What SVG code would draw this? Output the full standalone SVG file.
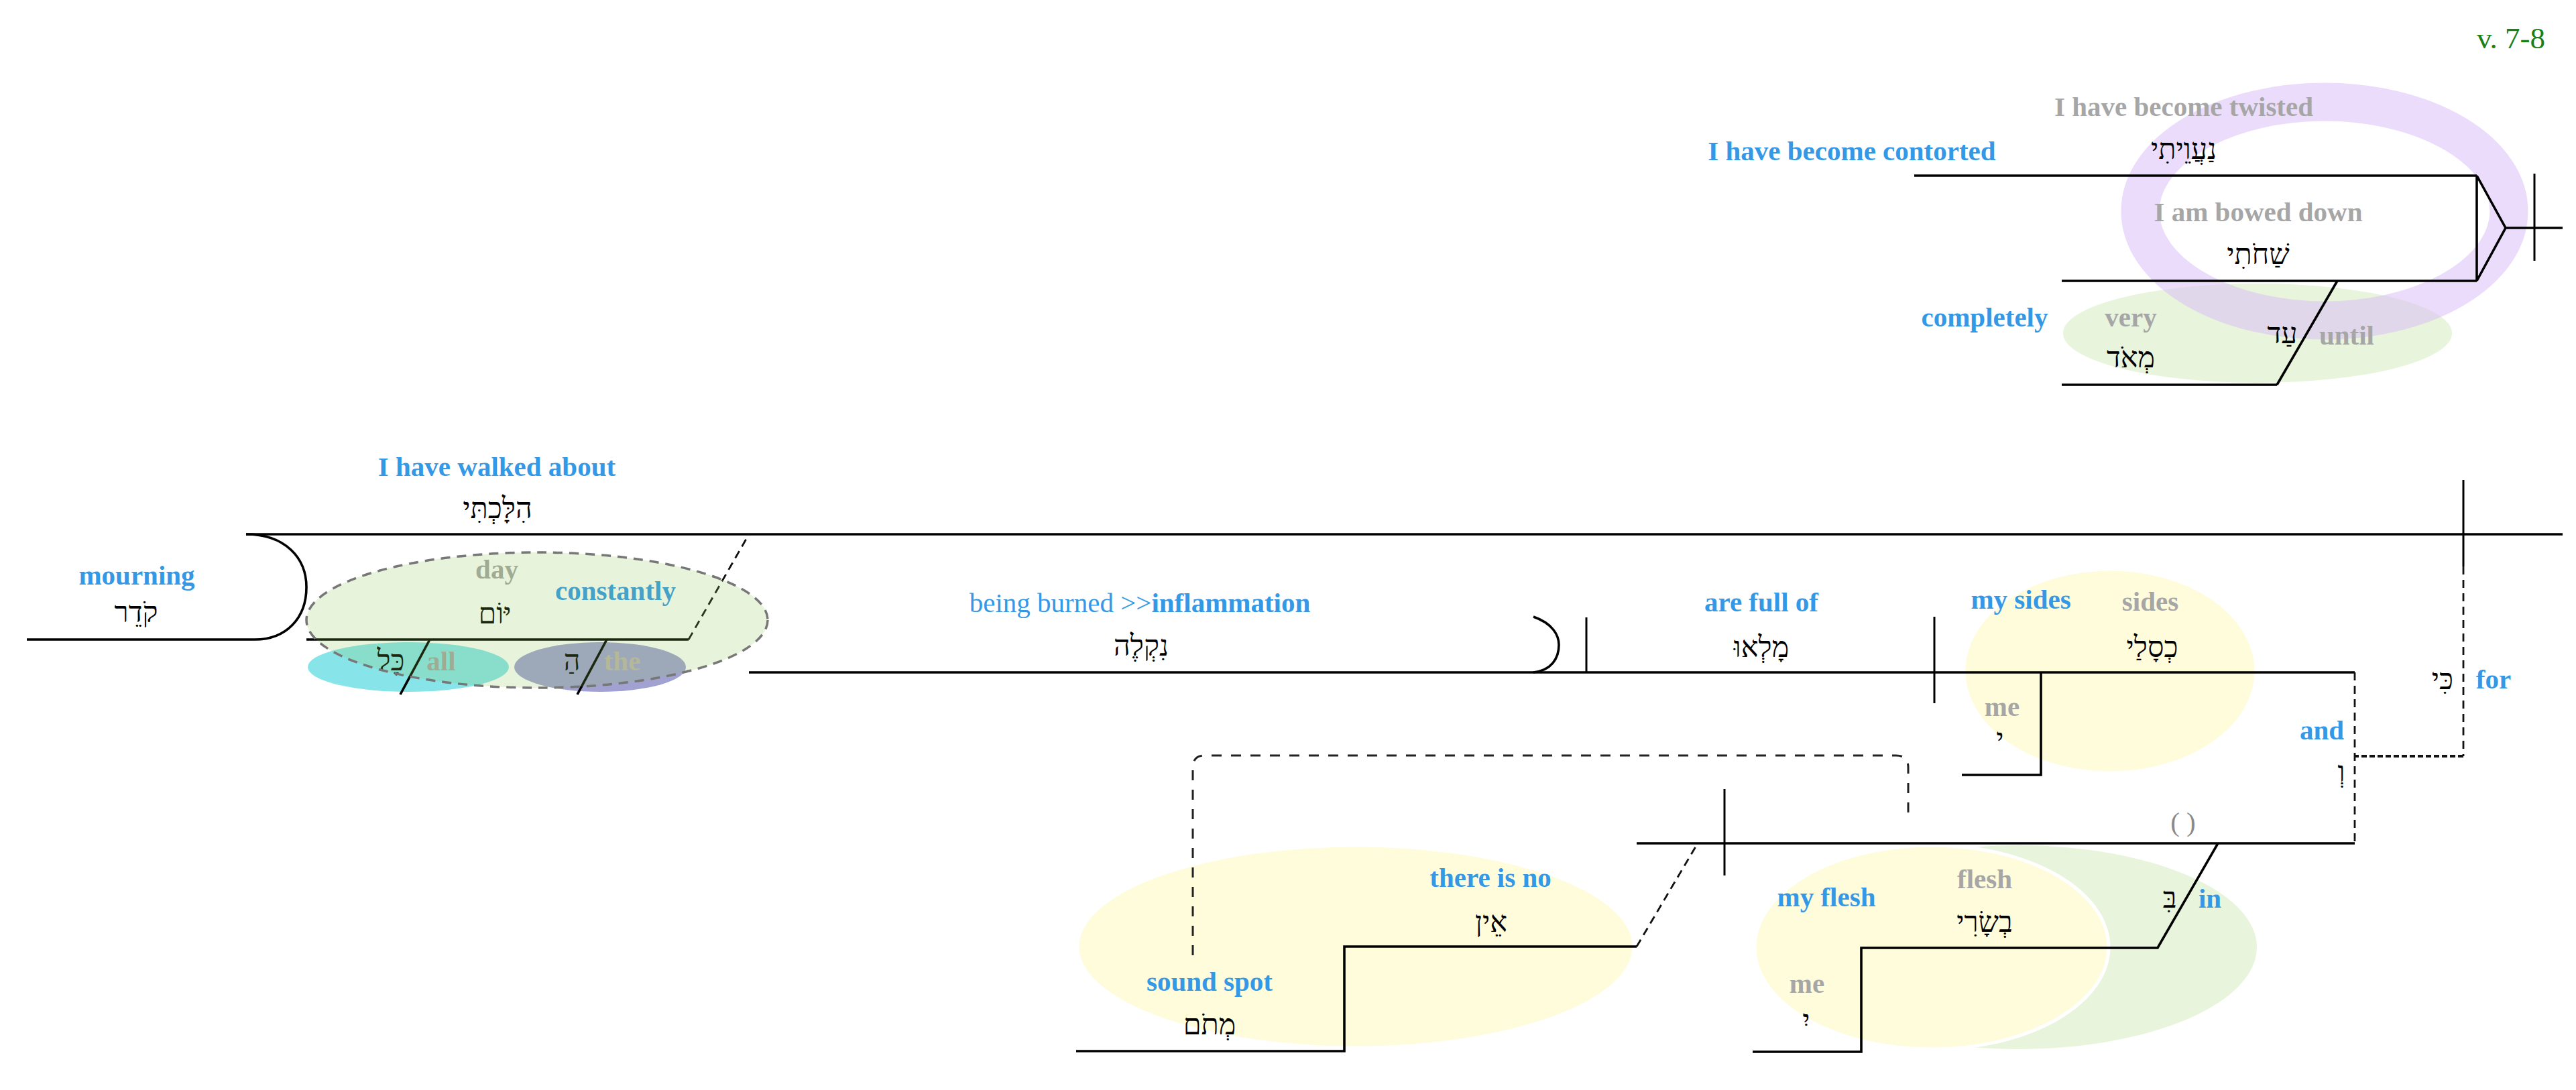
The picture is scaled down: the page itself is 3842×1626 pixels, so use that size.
<svg xmlns="http://www.w3.org/2000/svg" width="3842" height="1626" viewBox="0 0 3842 1626">
<style>
.en{font-family:"Liberation Serif","Times New Roman",serif;font-weight:bold;font-size:41px;text-anchor:middle}
.reg{font-weight:normal}
.blue{fill:#3399e6}
.gray{fill:#a6a6a6}
.he{font-family:"Liberation Serif","DejaVu Sans",serif;font-size:43px;text-anchor:middle;fill:#000}
.ln{stroke:#000;stroke-width:3.6;fill:none}
.thin{stroke:#000;stroke-width:3;fill:none}
.dash{stroke:#222;stroke-width:3;stroke-dasharray:15 14;fill:none}
.dash2{stroke:#111;stroke-width:2.8;stroke-dasharray:12 8;fill:none}
.dot{stroke:#111;stroke-width:4;stroke-dasharray:8 4;fill:none}
.yel{fill:#fffcdc;stroke:#fff;stroke-width:5}
.grn{fill:#e8f4dc}
</style>
<rect width="3842" height="1626" fill="#fff"/>

<!-- background highlights -->
<g id="highlights-under">
<ellipse class="grn" cx="3367" cy="497" rx="290" ry="74"/>
<ellipse cx="3467" cy="315" rx="275" ry="163" fill="none" stroke="#d9bff5" stroke-opacity="0.55" stroke-width="57"/>
<ellipse class="yel" cx="3147" cy="1001" rx="218" ry="152"/>
<ellipse class="yel" cx="2022" cy="1412" rx="415" ry="151"/>
<ellipse class="grn" cx="3010" cy="1413" rx="356" ry="152"/>
<ellipse class="yel" cx="2881" cy="1413" rx="264" ry="152"/>
<ellipse cx="609" cy="995" rx="150" ry="37" fill="#00c8d2" fill-opacity="0.47"/>
<ellipse cx="895" cy="995" rx="128" ry="37" fill="#5050aa" fill-opacity="0.53"/>
</g>

<text x="3796" y="72" font-family="Liberation Serif,serif" font-size="45" fill="#1a801a" text-anchor="end">v. 7-8</text>

<!-- top clause -->
<g id="n-naaveti">
<path class="ln" d="M2855,262 H3694"/>
<text class="en gray" x="3257" y="173">I have become twisted</text>
<text class="en blue" x="2762" y="239">I have become contorted</text>
<text class="he" x="3257" y="237">נַעֲוֵיתִי</text>
</g>
<g id="n-shachoti">
<path class="ln" d="M3075,419 H3694"/>
<text class="en gray" x="3368" y="330">I am bowed down</text>
<text class="he" x="3368" y="394">שַׁחֹתִי</text>
</g>
<g id="n-ad-meod">
<path class="ln" d="M3075,574 H3396"/>
<text class="en blue" x="2960" y="487">completely</text>
<text class="en gray" x="3178" y="487">very</text>
<text class="he" x="3178" y="548">מְאֹד</text>
<text class="he" x="3404" y="512">עַד</text>
<text class="en gray" x="3500" y="514">until</text>
</g>

<!-- left clause -->
<g id="n-hillakhti">
<path class="ln" d="M367,797 H3822"/>
<text class="en blue" x="741" y="710">I have walked about</text>
<text class="he" x="742" y="773">הִלָּכְתִּי</text>
</g>
<g id="n-qoder">
<path class="ln" d="M367,797 C425,797 457,832 457,876 C457,922 427,954 380,954 H40"/>
<text class="en blue" x="204" y="872">mourning</text>
<text class="he" x="203" y="928">קֹדֵר</text>
</g>
<g id="n-yom">
<path class="ln" d="M457,954 H1027"/>
<text class="en gray" x="741" y="863">day</text>
<text class="he" x="738" y="930">יּוֹם</text>
<text class="en blue" x="918" y="895">constantly</text>
</g>
<g id="n-kol">
<path class="ln" d="M641,954 L597,1036"/>
<text class="he" x="583" y="1000">כָּל</text>
<text class="en gray" x="658" y="1000">all</text>
</g>
<g id="n-ha">
<path class="ln" d="M905,954 L861,1036"/>
<text class="he" x="853" y="1000">הַ</text>
<text class="en" x="928" y="1000" fill="#beb6ac">the</text>
</g>

<!-- second clause -->
<g id="n-niqle">
<path class="ln" d="M1117,1003 H3512"/>
<text class="en blue" x="1700" y="913"><tspan class="reg">being burned &gt;&gt;</tspan>inflammation</text>
<text class="he" x="1702" y="978">נִקְלֶה</text>
<path class="ln" d="M2287,920 C2316,930 2325,948 2325,962 C2325,982 2314,1000 2287,1003"/>
<path class="thin" d="M2366,921 V1003"/>
</g>
<g id="n-malu">
<text class="en blue" x="2627" y="912">are full of</text>
<text class="he" x="2627" y="980">מָלְאוּ</text>
<path class="thin" d="M2885,920 V1049"/>
</g>
<g id="n-kesalay">
<text class="en blue" x="3014" y="908">my sides</text>
<text class="en gray" x="3207" y="911">sides</text>
<text class="he" x="3210" y="980">כְסָלַי</text>
<path class="ln" d="M3044,1003 V1156 H2926"/>
<text class="en gray" x="2986" y="1068">me</text>
<text class="he" x="2983" y="1117">י</text>
</g>
<g id="n-ki">
<path class="thin" d="M3674,716 V845"/>
<text class="he" x="3643" y="1028">כִּי</text>
<text class="en blue" x="3719" y="1027">for</text>
</g>
<g id="n-ve">
<text class="en blue" x="3463" y="1103">and</text>
<text class="he" x="3492" y="1166">וְ</text>
</g>

<!-- third clause -->
<g id="n-clause3">
<path class="ln" d="M2441,1258 H3512"/>
<path class="thin" d="M2572,1177 V1306"/>
<text class="en reg" x="3256" y="1240" fill="#8a8a8a">( )</text>
</g>
<g id="n-ein">
<path class="ln" d="M1605,1568 H2005 V1412 H2441"/>
<text class="en blue" x="2223" y="1323">there is no</text>
<text class="he" x="2224" y="1390">אֵין</text>
<text class="en blue" x="1804" y="1478">sound spot</text>
<text class="he" x="1804" y="1543">מְתֹם</text>
</g>
<g id="n-besari">
<path class="ln" d="M2614,1569 H2776 V1414 H3218 L3308,1258"/>
<text class="en gray" x="2960" y="1325">flesh</text>
<text class="he" x="2960" y="1390">בְשָׂרִי</text>
<text class="en blue" x="2724" y="1352">my flesh</text>
<text class="he" x="3236" y="1354">בִּ</text>
<text class="en blue" x="3296" y="1354">in</text>
<text class="en gray" x="2695" y="1481">me</text>
<text class="he" x="2694" y="1537">יִ</text>
</g>

<!-- connectors -->
<g id="connectors">
<path class="ln" d="M3694,262 V419 M3694,262 L3737,340 L3694,419 M3737,340 H3822"/>
<path class="thin" d="M3780,259 V389"/>
<path class="ln" d="M3486,419 L3396,574"/>
<path class="dash2" d="M1027,954 L1117,797"/>
<path class="dash2" d="M3674,845 V1128"/>
<path class="dot" d="M3674,1128 H3512"/>
<path class="dash2" d="M3512,1003 V1258"/>
<path class="dash" d="M1779,1425 V1145 Q1779,1127 1797,1127 H2828 Q2846,1127 2846,1145 V1212"/>
<path class="dash2" d="M2441,1412 L2532,1258"/>
</g>

<!-- overlay highlight -->
<g id="highlights-over">
<ellipse cx="801" cy="925" rx="344" ry="101" fill="#8cc350" fill-opacity="0.2" stroke="#777" stroke-width="3.5" stroke-dasharray="14 10"/>
</g>
</svg>
